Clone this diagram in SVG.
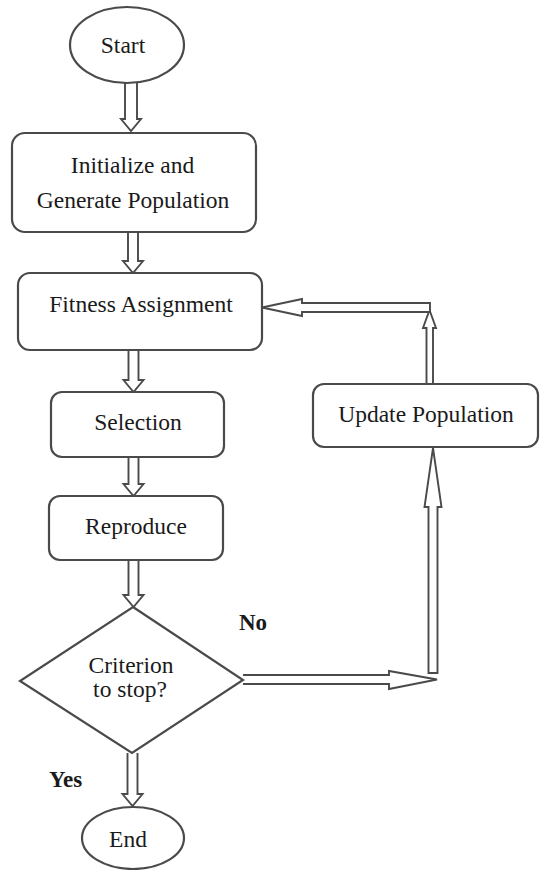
<svg xmlns="http://www.w3.org/2000/svg" width="542" height="870" viewBox="0 0 542 870">
<style>
.shape{fill:#fff;stroke:#4a4a4a;stroke-width:2.2}
.arr{fill:#fff;stroke:#4a4a4a;stroke-width:1.9;stroke-linejoin:miter}
.t{font-family:'Liberation Serif','Times New Roman',serif;font-size:23.5px;fill:#1a1a1a;text-anchor:middle}
.lbl{font-weight:bold;text-anchor:start;font-size:23px}
</style>
<rect width="542" height="870" fill="#fff"/>
<g id="connectors">
<path class="arr" d="M125,83 V119 H121 L131,131 L141,119 H137 V83"/>
<path class="arr" d="M128,232 V261 H123 L133,273 L143,261 H138 V232"/>
<path class="arr" d="M128.5,350 V380 H123.5 L133.5,392 L143.5,380 H138.5 V350"/>
<path class="arr" d="M128.5,457 V484 H123.5 L133.5,496 L143.5,484 H138.5 V457"/>
<path class="arr" d="M128.5,560 V595 H123.5 L133.5,607 L143.5,595 H138.5 V560"/>
<path class="arr" d="M127.5,753 V794 H122.5 L132.5,806 L142.5,794 H137.5 V753"/>
<path class="arr" d="M243,675 H389 V671 L437,679.5 L389,689 V684 H243"/>
<path class="arr" d="M428.5,673 V507 H424.5 L433,448 L441.5,507 H437.5 V673 Z"/>
<path class="arr" d="M426.5,384 V328 H423 L429.5,310 L436,328 H433 V384"/>
<path class="arr" d="M430,303 H302 V299 L262,307.5 L302,316 V312 H430 Z"/>
</g>
<g id="start">
<ellipse class="shape" cx="127" cy="45" rx="57" ry="38"/>
<text class="t" x="123" y="53">Start</text>
</g>
<g id="init">
<rect class="shape" x="12" y="133" width="244" height="99" rx="13"/>
<text class="t" x="132.5" y="173">Initialize and</text>
<text class="t" x="133" y="208">Generate Population</text>
</g>
<g id="fitness">
<rect class="shape" x="18" y="273" width="244" height="77" rx="12"/>
<text class="t" x="141" y="312">Fitness Assignment</text>
</g>
<g id="selection">
<rect class="shape" x="51" y="392" width="173" height="65" rx="11"/>
<text class="t" x="138" y="430">Selection</text>
</g>
<g id="reproduce">
<rect class="shape" x="49" y="496" width="174" height="64" rx="11"/>
<text class="t" x="136" y="534">Reproduce</text>
</g>
<g id="criterion">
<polygon class="shape" points="133,607 243,680 132,753 20,681"/>
<text class="t" x="131" y="673">Criterion</text>
<text class="t" x="130" y="697">to stop?</text>
</g>
<g id="end">
<ellipse class="shape" cx="133" cy="838" rx="51" ry="31"/>
<text class="t" x="128" y="847">End</text>
</g>
<g id="update">
<rect class="shape" x="313" y="384" width="225" height="63" rx="11"/>
<text class="t" x="426" y="422">Update Population</text>
</g>
<g id="labels">
<text class="t lbl" x="239" y="630">No</text>
<text class="t lbl" x="49" y="787">Yes</text>
</g>
</svg>
